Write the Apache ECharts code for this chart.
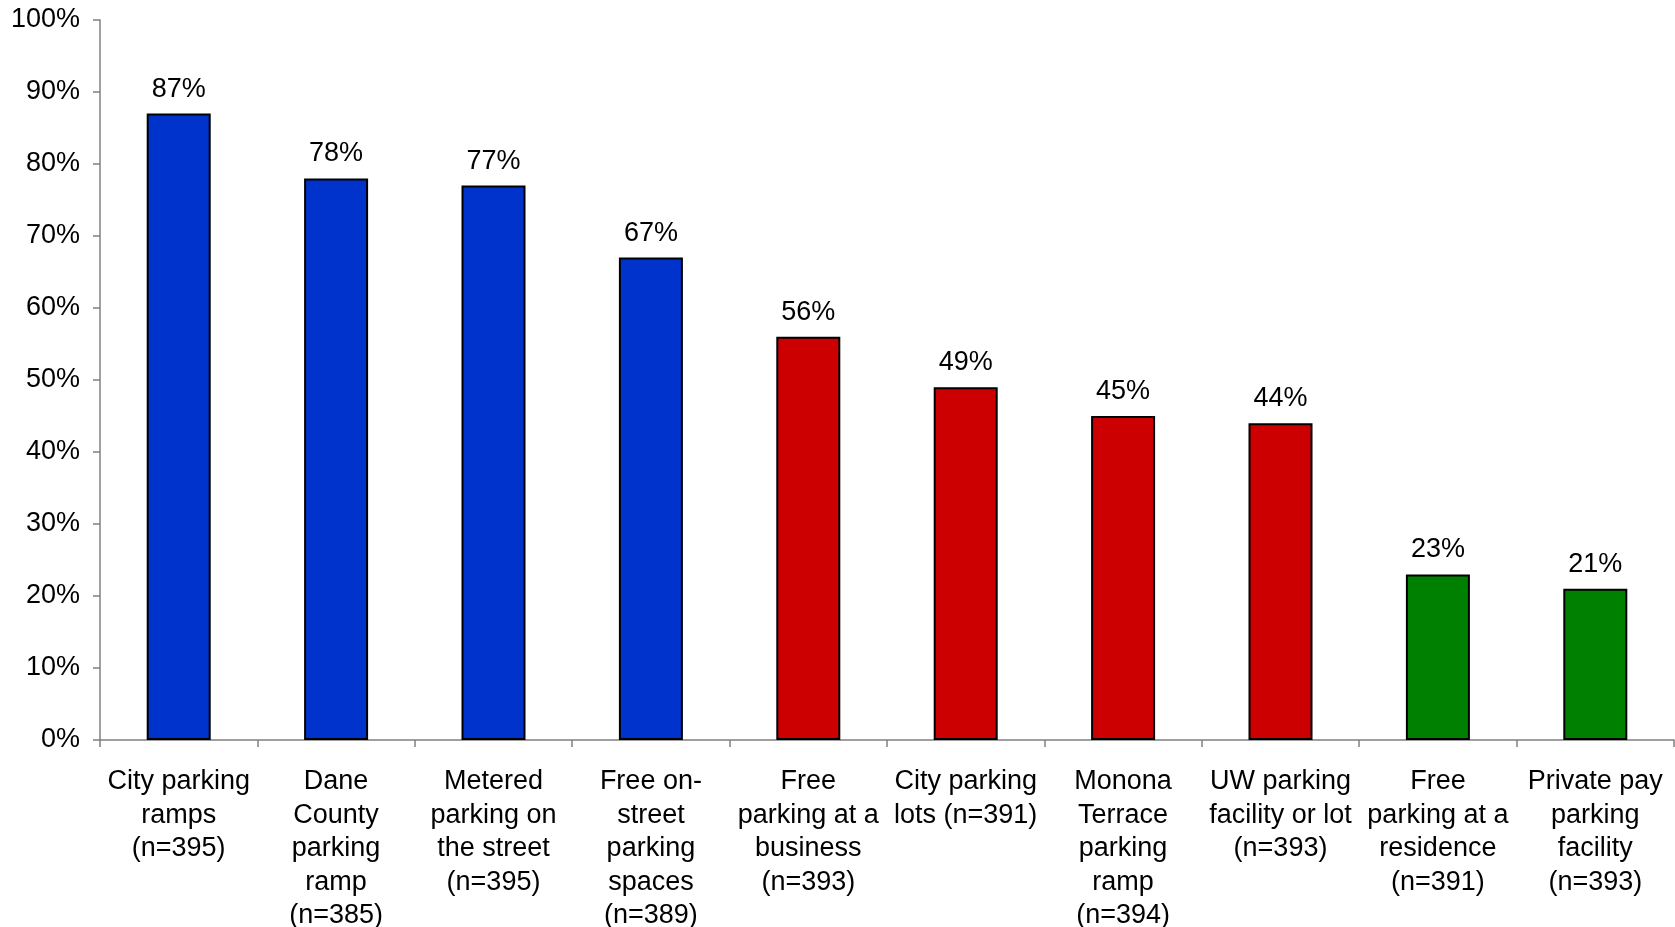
<!DOCTYPE html>
<html>
<head>
<meta charset="utf-8">
<style>
  html, body { margin: 0; padding: 0; background: #ffffff; }
  #chart { width: 1675px; height: 927px; }
</style>
<script src="https://cdn.jsdelivr.net/npm/echarts@6/dist/echarts.min.js"></script>
</head>
<body>
<div id="chart"></div>
<script>
// Parking options and share of respondents (%)
const categories = [
  'City parking\nramps\n(n=395)',
  'Dane\nCounty\nparking\nramp\n(n=385)',
  'Metered\nparking on\nthe street\n(n=395)',
  'Free on-\nstreet\nparking\nspaces\n(n=389)',
  'Free\nparking at a\nbusiness\n(n=393)',
  'City parking\nlots (n=391)',
  'Monona\nTerrace\nparking\nramp\n(n=394)',
  'UW parking\nfacility or lot\n(n=393)',
  'Free\nparking at a\nresidence\n(n=391)',
  'Private pay\nparking\nfacility\n(n=393)'
];
const values = [87, 78, 77, 67, 56, 49, 45, 44, 23, 21];
// Group of each bar: 0 = blue, 1 = red, 2 = green
const groups = [0, 0, 0, 0, 1, 1, 1, 1, 2, 2];
const groupColors = ['#0033CC', '#CC0000', '#008000'];

const FONT = '"Liberation Sans", Arial, sans-serif';
const chart = echarts.init(document.getElementById('chart'), null, { renderer: 'canvas' });

chart.setOption({
  backgroundColor: '#ffffff',
  animation: false,
  grid: {
    left: 100, right: 1, top: 20, bottom: 187,
    containLabel: false,
    outerBoundsMode: 'none'
  },
  xAxis: {
    type: 'category',
    data: categories,
    boundaryGap: true,
    axisLine: { show: true, lineStyle: { color: '#808080', width: 1.5 } },
    axisTick: { show: true, length: 7, alignWithLabel: false, interval: 0, lineStyle: { color: '#808080', width: 1.5 } },
    axisLabel: {
      interval: 0,
      margin: 25,
      color: '#000000',
      fontFamily: FONT,
      fontSize: 27,
      lineHeight: 33.5,
      align: 'center',
      hideOverlap: false
    },
    splitLine: { show: false }
  },
  yAxis: {
    type: 'value',
    min: 0,
    max: 100,
    interval: 10,
    axisLine: { show: true, lineStyle: { color: '#808080', width: 1.5 } },
    axisTick: { show: true, length: 7, lineStyle: { color: '#808080', width: 1.5 } },
    axisLabel: {
      margin: 20,
      color: '#000000',
      fontFamily: FONT,
      fontSize: 27,
      formatter: '{value}%'
    },
    splitLine: { show: false }
  },
  series: [{
    type: 'bar',
    barWidth: 64,
    data: values.map((v, i) => ({
      value: v,
      itemStyle: { color: groupColors[groups[i]] }
    })),
    itemStyle: { borderColor: '#000000', borderWidth: 2 },
    label: {
      show: true,
      position: 'top',
      distance: 11,
      color: '#000000',
      fontFamily: FONT,
      fontSize: 27,
      formatter: '{c}%'
    }
  }]
});
</script>
</body>
</html>
